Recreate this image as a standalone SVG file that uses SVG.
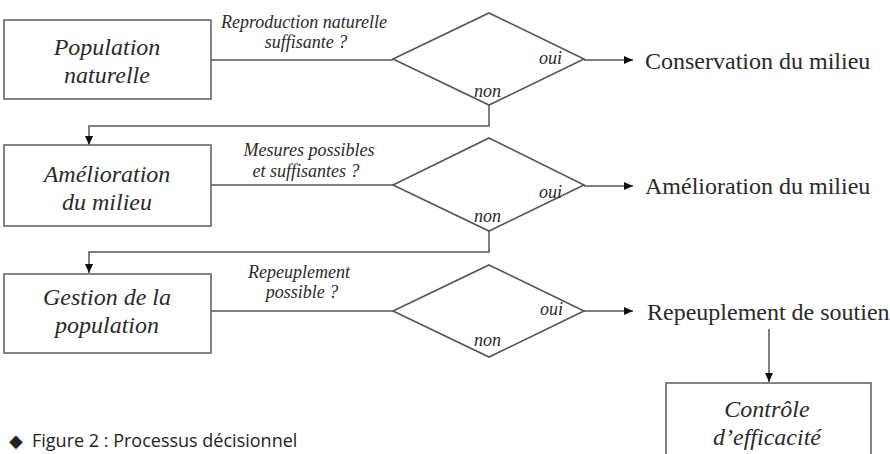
<svg xmlns="http://www.w3.org/2000/svg" width="890" height="454" viewBox="0 0 890 454">
<style>
.box{fill:#fff;stroke:#666;stroke-width:1.6}
.dia{fill:#fff;stroke:#555;stroke-width:1.6}
.ln{fill:none;stroke:#555;stroke-width:1.5}
.bt{font-family:"Liberation Serif","Times New Roman",serif;font-style:italic;font-size:24px;fill:#2a2a2a;text-anchor:middle}
.q{font-family:"Liberation Serif","Times New Roman",serif;font-style:italic;font-size:18px;fill:#2a2a2a;text-anchor:middle}
.yn{font-family:"Liberation Serif","Times New Roman",serif;font-style:italic;font-size:18px;fill:#2a2a2a}
.out{font-family:"Liberation Serif","Times New Roman",serif;font-size:24px;fill:#2a2a2a}
.cap{font-family:"Open Sans",sans-serif;font-size:18px;fill:#222}
</style>
<defs>
<marker id="ah" markerWidth="10" markerHeight="8" refX="9" refY="4" orient="auto" markerUnits="userSpaceOnUse">
<path d="M0,0 L9,4 L0,8 Z" fill="#111"/>
</marker>
</defs>
<rect width="890" height="454" fill="#fff"/>
<g id="connectors">
<path class="ln" d="M211,60 H393"/>
<path class="ln" d="M584,60 H633" marker-end="url(#ah)"/>
<path class="ln" d="M489,105 V126 H89 V145" marker-end="url(#ah)"/>
<path class="ln" d="M211,185 H393"/>
<path class="ln" d="M584,186 H633" marker-end="url(#ah)"/>
<path class="ln" d="M489,230 V252 H89 V273" marker-end="url(#ah)"/>
<path class="ln" d="M211,311 H393"/>
<path class="ln" d="M584,311 H633" marker-end="url(#ah)"/>
<path class="ln" d="M769,329 V382" marker-end="url(#ah)"/>
<text class="q" x="304" y="28">Reproduction naturelle</text>
<text class="q" x="306" y="48">suffisante ?</text>
<text class="q" x="309" y="156">Mesures possibles</text>
<text class="q" x="306" y="177">et suffisantes ?</text>
<text class="q" x="299" y="278">Repeuplement</text>
<text class="q" x="302" y="298">possible ?</text>
</g>
<g id="n1"><rect class="box" x="4" y="20" width="207" height="79"/>
<text class="bt" x="107" y="55">Population</text><text class="bt" x="107" y="83">naturelle</text></g>
<g id="d1"><polygon class="dia" points="489,13 584,59 489,105 393,59"/>
<text class="yn" x="539" y="64">oui</text><text class="yn" x="474" y="97">non</text></g>
<g id="o1"><text class="out" x="645" y="69">Conservation du milieu</text></g>
<g id="n2"><rect class="box" x="4" y="145" width="207" height="81"/>
<text class="bt" x="107" y="182">Amélioration</text><text class="bt" x="107" y="210">du milieu</text></g>
<g id="d2"><polygon class="dia" points="489,138 584,185 489,231 393,185"/>
<text class="yn" x="539" y="198">oui</text><text class="yn" x="474" y="222">non</text></g>
<g id="o2"><text class="out" x="645" y="194">Amélioration du milieu</text></g>
<g id="n3"><rect class="box" x="4" y="274" width="207" height="79"/>
<text class="bt" x="107" y="305">Gestion de la</text><text class="bt" x="107" y="333">population</text></g>
<g id="d3"><polygon class="dia" points="489,265 584,311 489,357 393,311"/>
<text class="yn" x="540" y="315">oui</text><text class="yn" x="474" y="346">non</text></g>
<g id="o3"><text class="out" x="647" y="320">Repeuplement de soutien</text></g>
<g id="n4"><rect class="box" x="666" y="383" width="205" height="90"/>
<text class="bt" x="767" y="417">Contrôle</text><text class="bt" x="767" y="445">d’efficacité</text></g>
<g id="caption"><text class="cap" x="9" y="447" font-size="12">◆</text><text class="cap" x="32" y="447">Figure 2 : Processus décisionnel</text></g>
</svg>
